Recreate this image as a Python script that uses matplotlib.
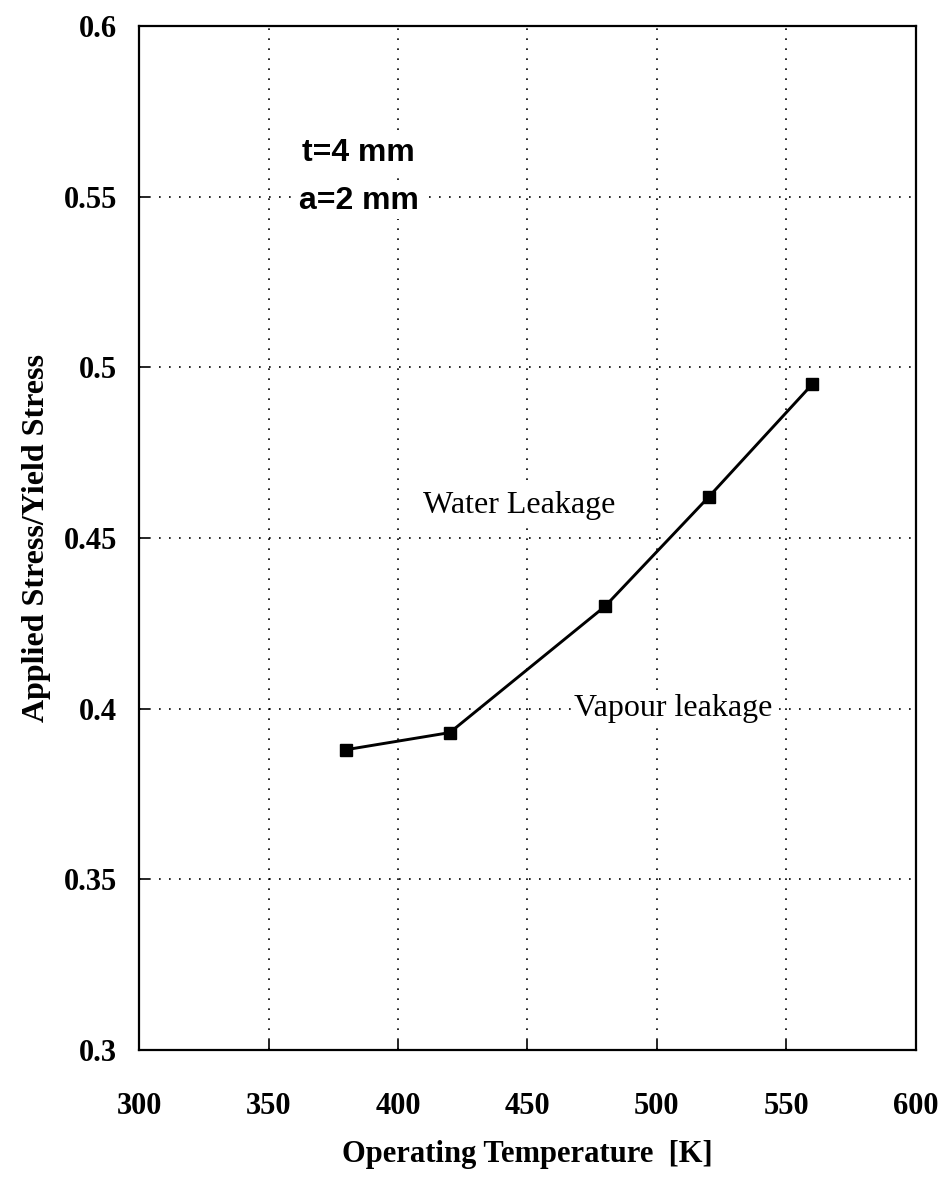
import matplotlib.pyplot as plt

# Data
temperature = [380, 420, 480, 520, 560]
stress_ratio = [0.388, 0.393, 0.430, 0.462, 0.495]

x_ticks = [300, 350, 400, 450, 500, 550, 600]
y_ticks = [0.3, 0.35, 0.4, 0.45, 0.5, 0.55, 0.6]
y_tick_labels = ['0.3', '0.35', '0.4', '0.45', '0.5', '0.55', '0.6']

plt.rcParams['font.family'] = ['Liberation Serif', 'DejaVu Serif']

fig = plt.figure(figsize=(9.41, 11.79), dpi=100)
ax = fig.add_axes([0.148, 0.1094, 0.825, 0.8685])

ax.plot(temperature, stress_ratio, color='black', linewidth=2.1,
        marker='s', markersize=8, zorder=3)

ax.set_xlim(300, 600)
ax.set_ylim(0.3, 0.6)
ax.set_xticks(x_ticks)
ax.set_yticks(y_ticks)
ax.set_yticklabels(y_tick_labels)

ax.grid(True, color='black', linestyle=(0, (1, 5)), linewidth=1.2)
ax.tick_params(direction='in', length=7, width=1.2, labelsize=22)
ax.tick_params(axis='x', pad=30)
ax.tick_params(axis='y', pad=16)
for lbl in ax.get_xticklabels() + ax.get_yticklabels():
    lbl.set_fontweight('bold')
for sp in ax.spines.values():
    sp.set_linewidth(1.6)

ax.set_xlabel('Operating Temperature  [K]', fontsize=22, fontweight='bold', labelpad=14)
ax.set_ylabel('Applied Stress/Yield Stress', fontsize=23, fontweight='bold', labelpad=9)

box = dict(facecolor='white', edgecolor='none', pad=2)
ax.text(384.7, 0.5628, 't=4 mm', fontsize=23, fontweight='bold', family=['Liberation Sans'],
        ha='center', va='center', bbox=box)
ax.text(384.7, 0.5487, 'a=2 mm', fontsize=23, fontweight='bold', family=['Liberation Sans'],
        ha='center', va='center', bbox=box)
ax.text(447, 0.4595, 'Water Leakage', fontsize=23, ha='center', va='center', bbox=box)
ax.text(506.5, 0.4, 'Vapour leakage', fontsize=23, ha='center', va='center', bbox=box)

fig.savefig('out.png', dpi=100)
